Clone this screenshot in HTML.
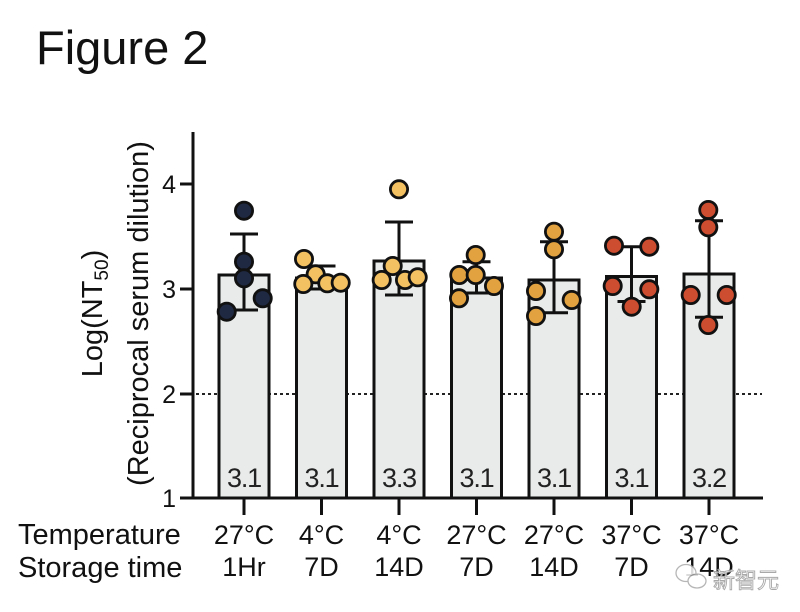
<!DOCTYPE html>
<html><head><meta charset="utf-8"><style>
html,body{margin:0;padding:0;background:#fff;}
svg{display:block;}
text{font-family:"Liberation Sans",Arial,sans-serif;}
</style></head><body>
<svg width="800" height="612" viewBox="0 0 800 612" xmlns="http://www.w3.org/2000/svg">
<rect width="800" height="612" fill="#fff"/>
<text x="36" y="64" font-size="47" fill="#111">Figure 2</text>

<!-- dotted line at 2 -->
<line x1="196" y1="394" x2="762" y2="394" stroke="#222" stroke-width="2" stroke-dasharray="3 3"/>

<!-- bars -->
<g fill="#e9ebeb" stroke="#111" stroke-width="3">
<rect x="219" y="275" width="50" height="223"/>
<rect x="296.5" y="278" width="50" height="220"/>
<rect x="374" y="261" width="50" height="237"/>
<rect x="451.5" y="278" width="50" height="220"/>
<rect x="529" y="280" width="50" height="218"/>
<rect x="606.5" y="276.5" width="50" height="221.5"/>
<rect x="684" y="274" width="50" height="224"/>
</g>

<!-- value labels -->
<g font-size="27" fill="#222" text-anchor="middle" letter-spacing="-1.2">
<text x="244" y="487">3.1</text>
<text x="321.5" y="487">3.1</text>
<text x="399" y="487">3.3</text>
<text x="476.5" y="487">3.1</text>
<text x="554" y="487">3.1</text>
<text x="631.5" y="487">3.1</text>
<text x="709" y="487">3.2</text>
</g>

<!-- error bars -->
<g stroke="#111" stroke-width="3" fill="none">
<path d="M244 234V310M230 234H258M230 310H258"/>
<path d="M321.5 266V289M307.5 266H335.5M307.5 289H335.5"/>
<path d="M399 222V295M385 222H413M385 295H413"/>
<path d="M476.5 261.7V293M462.5 261.7H490.5M462.5 293H490.5"/>
<path d="M554 241.7V312.7M540 241.7H568M540 312.7H568"/>
<path d="M631.5 246.7V301.5M617.5 246.7H645.5M617.5 301.5H645.5"/>
<path d="M709 220.7V317.3M695 220.7H723M695 317.3H723"/>
</g>

<!-- dots -->
<g stroke="#111" stroke-width="2.8">
<g fill="#1f2942">
<circle cx="244" cy="210.7" r="8.6"/>
<circle cx="244" cy="261.7" r="8.6"/>
<circle cx="244" cy="278.3" r="8.6"/>
<circle cx="262.7" cy="298.3" r="8.6"/>
<circle cx="226.7" cy="311.7" r="8.6"/>
</g>
<g fill="#f3c062">
<circle cx="304" cy="259" r="8.6"/>
<circle cx="315.7" cy="274.3" r="8.6"/>
<circle cx="303.3" cy="284" r="8.6"/>
<circle cx="327.3" cy="283.3" r="8.6"/>
<circle cx="340.7" cy="282.7" r="8.6"/>
<circle cx="399" cy="189.3" r="8.6"/>
<circle cx="392.7" cy="266" r="8.6"/>
<circle cx="381.7" cy="280" r="8.6"/>
<circle cx="405" cy="280" r="8.6"/>
<circle cx="417.7" cy="277.3" r="8.6"/>
</g>
<g fill="#e2a23f">
<circle cx="475.7" cy="255" r="8.6"/>
<circle cx="459.3" cy="275" r="8.6"/>
<circle cx="475.7" cy="275" r="8.6"/>
<circle cx="494" cy="286" r="8.6"/>
<circle cx="459" cy="298.3" r="8.6"/>
<circle cx="554" cy="231.7" r="8.6"/>
<circle cx="554" cy="249.3" r="8.6"/>
<circle cx="536" cy="291" r="8.6"/>
<circle cx="571.7" cy="300" r="8.6"/>
<circle cx="536" cy="316" r="8.6"/>
</g>
<g fill="#cd4d30">
<circle cx="614" cy="245.7" r="8.6"/>
<circle cx="649.3" cy="246.7" r="8.6"/>
<circle cx="612.7" cy="286" r="8.6"/>
<circle cx="649.3" cy="289.3" r="8.6"/>
<circle cx="631.7" cy="306.7" r="8.6"/>
<circle cx="708.3" cy="210" r="8.6"/>
<circle cx="708.3" cy="227.3" r="8.6"/>
<circle cx="690.7" cy="295" r="8.6"/>
<circle cx="726.7" cy="295" r="8.6"/>
<circle cx="708.3" cy="325" r="8.6"/>
</g>
</g>

<!-- axes -->
<g stroke="#111" stroke-width="3" fill="none">
<path d="M193 132V499.5M191.5 498H763"/>
<path d="M180 184H193M180 289H193M180 394H193M180 498H193"/>
<path d="M244 498V515M321.5 498V515M399 498V515M476.5 498V515M554 498V515M631.5 498V515M709 498V515"/>
</g>

<!-- y tick labels -->
<g font-size="25" fill="#111" text-anchor="end">
<text x="176" y="193">4</text>
<text x="176" y="298">3</text>
<text x="176" y="403">2</text>
<text x="176" y="507">1</text>
</g>

<!-- y title -->
<text transform="translate(102,313.5) rotate(-90)" font-size="29" fill="#111" text-anchor="middle">Log(NT<tspan font-size="19" dy="6">50</tspan><tspan dy="-6">)</tspan></text>
<text transform="translate(148,313.5) rotate(-90)" font-size="29" fill="#111" text-anchor="middle">(Reciprocal serum dilution)</text>

<!-- x labels -->
<text x="18" y="544" font-size="29" fill="#111">Temperature</text>
<text x="18" y="577" font-size="29" fill="#111">Storage time</text>
<g font-size="27" fill="#111" text-anchor="middle">
<text x="244" y="544">27°C</text>
<text x="321.5" y="544">4°C</text>
<text x="399" y="544">4°C</text>
<text x="476.5" y="544">27°C</text>
<text x="554" y="544">27°C</text>
<text x="631.5" y="544">37°C</text>
<text x="709" y="544">37°C</text>
<text x="244" y="576">1Hr</text>
<text x="321.5" y="576">7D</text>
<text x="399" y="576">14D</text>
<text x="476.5" y="576">7D</text>
<text x="554" y="576">14D</text>
<text x="631.5" y="576">7D</text>
<text x="709" y="576">14D</text>
</g>

<!-- watermark -->
<g opacity="0.85">
<ellipse cx="686" cy="573" rx="10" ry="8.5" fill="#fff" stroke="#aaa" stroke-width="1.3"/>
<ellipse cx="697" cy="581" rx="9" ry="7" fill="#fff" stroke="#aaa" stroke-width="1.3"/>
<text x="713" y="588" font-size="22" fill="#fff" stroke="#999" stroke-width="0.9" style='font-family:"Liberation Sans","Noto Sans CJK SC",sans-serif'>新智元</text>
</g>
</svg>
</body></html>
